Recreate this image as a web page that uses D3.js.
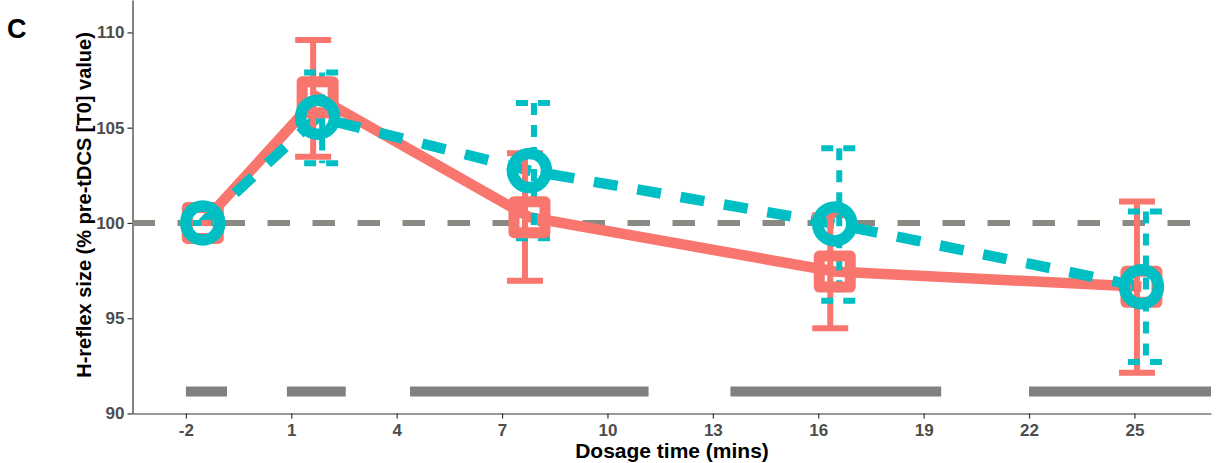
<!DOCTYPE html>
<html>
<head>
<meta charset="utf-8">
<script src="https://cdn.jsdelivr.net/npm/d3@7"></script>
<style>
  body { margin: 0; background: #fff; }
  text { font-family: "Liberation Sans", Arial, sans-serif; }
</style>
</head>
<body>
<svg id="chart"></svg>
<script>
// tick labels
var xTicks = [-2, 1, 4, 7, 10, 13, 16, 19, 22, 25];
var yTicks = [90, 95, 100, 105, 110];

// measurement times (mins)
var times = [-1.52, 1.75, 7.78, 16.47, 25.2];

// solid (red) series
var meanA = [100, 106.6, 100.3, 97.45, 96.65];
var lowA = [100, 103.48, 96.97, 94.47, 92.14];
var highA = [100, 109.6, 103.66, 100.4, 101.12];

// dashed (teal) series
var meanB = [100, 105.55, 102.75, 99.95, 96.65];
var lowB = [100, 103.13, 99.2, 95.92, 92.7];
var highB = [100, 107.9, 106.3, 103.92, 100.6];

// grey stimulation blocks along the bottom
var blockStart = [-2, 0.875, 4.38, 13.5, 22];
var blockEnd = [-0.83, 2.55, 11.17, 19.5, 27.18];
var blockLevel = 91.15;

var baseline = 100;

var width = 1221, height = 463;
var red = "#F8766D", teal = "#00BFC4";

var svg = d3.select("#chart")
            .attr("width", width)
            .attr("height", height);

var x = d3.scaleLinear().domain([-3.52, 27.18]).range([132.5, 1211]);
var y = d3.scaleLinear().domain([90, 111.7]).range([413.5, 0]);

// panel letter
svg.append("text")
   .attr("x", 7)
   .attr("y", 38)
   .attr("font-size", "27px")
   .attr("font-weight", "bold")
   .attr("fill", "#000")
   .text("C");

// axes
var xAxis = svg.append("g")
               .attr("transform", "translate(0," + y(90) + ")")
               .call(d3.axisBottom(x).tickValues(xTicks).tickFormat(d => String(d))
                       .tickSize(5).tickSizeOuter(0).tickPadding(5));
var yAxis = svg.append("g")
               .attr("transform", "translate(" + x(-3.52) + ",0)")
               .call(d3.axisLeft(y).tickValues(yTicks).tickSize(5).tickSizeOuter(0).tickPadding(3));

[xAxis, yAxis].forEach(function(a) {
    a.select(".domain").attr("stroke", "#333").attr("stroke-width", 1.2);
    a.selectAll(".tick line").attr("stroke", "#333").attr("stroke-width", 1.2);
    a.selectAll(".tick text")
     .attr("fill", "#4d4d4d")
     .attr("font-size", "17px")
     .attr("font-weight", "bold")
     .attr("font-family", "Liberation Sans, Arial, sans-serif");
});

// axis titles
svg.append("text")
   .attr("x", 672)
   .attr("y", 458)
   .attr("font-size", "21px")
   .attr("font-weight", "bold")
   .style("text-anchor", "middle")
   .text("Dosage time (mins)");

svg.append("text")
   .attr("transform", "translate(91," + 205 + ") rotate(-90)")
   .attr("font-size", "20px")
   .attr("font-weight", "bold")
   .style("text-anchor", "middle")
   .text("H-reflex size (% pre-tDCS [T0] value)");

// baseline reference
svg.append("line")
   .attr("x1", x(-3.52)).attr("x2", x(27.18))
   .attr("y1", y(baseline)).attr("y2", y(baseline))
   .attr("stroke", "#8a8a84")
   .attr("stroke-width", 6)
   .attr("stroke-dasharray", "22.5,22.5");

// stimulation blocks
svg.selectAll(".block")
   .data(blockStart)
   .enter()
   .append("line")
     .classed("block", true)
     .attr("x1", d => x(d))
     .attr("x2", (d, i) => x(blockEnd[i]))
     .attr("y1", y(blockLevel))
     .attr("y2", y(blockLevel))
     .attr("stroke", "#808080")
     .attr("stroke-width", 10);

var series = [
    {mean: meanA, low: lowA, high: highA, color: red, dash: null, barDash: null, shift: -4.5, shape: "square"},
    {mean: meanB, low: lowB, high: highB, color: teal, dash: "24,20", barDash: "12,10", shift: 4.5, shape: "circle"}
];

var line = d3.line()
             .x(d => x(d.t))
             .y(d => y(d.v));

// lines
series.forEach(function(s) {
    var pts = times.map(function(t, i) { return {t: t, v: s.mean[i]}; });
    svg.append("path")
       .datum(pts)
       .attr("d", line)
       .attr("fill", "none")
       .attr("stroke", s.color)
       .attr("stroke-width", 10.5)
       .attr("stroke-dasharray", s.dash);
});

// error bars
series.forEach(function(s) {
    var g = svg.append("g");
    times.forEach(function(t, i) {
        var cx = x(t) + s.shift;
        var segs = [
            [cx - 18, y(s.high[i]), cx + 18, y(s.high[i])],
            [cx, y(s.high[i]), cx, y(s.low[i])],
            [cx - 18, y(s.low[i]), cx + 18, y(s.low[i])]
        ];
        g.selectAll(null)
         .data(segs)
         .enter()
         .append("line")
           .attr("x1", d => d[0]).attr("y1", d => d[1])
           .attr("x2", d => d[2]).attr("y2", d => d[3])
           .attr("stroke", s.color)
           .attr("stroke-width", 6)
           .attr("stroke-dasharray", s.barDash);
    });
});

// markers
series.forEach(function(s) {
    times.forEach(function(t, i) {
        if (s.shape === "square") {
            svg.append("rect")
               .attr("x", x(t) - 15.5)
               .attr("y", y(s.mean[i]) - 15.5)
               .attr("width", 31)
               .attr("height", 31)
               .attr("fill", "none")
               .attr("stroke", s.color)
               .attr("stroke-width", 11)
               .attr("stroke-linejoin", "round");
        } else {
            svg.append("circle")
               .attr("cx", x(t))
               .attr("cy", y(s.mean[i]))
               .attr("r", 17)
               .attr("fill", "none")
               .attr("stroke", s.color)
               .attr("stroke-width", 11.5);
        }
    });
});
</script>
</body>
</html>
